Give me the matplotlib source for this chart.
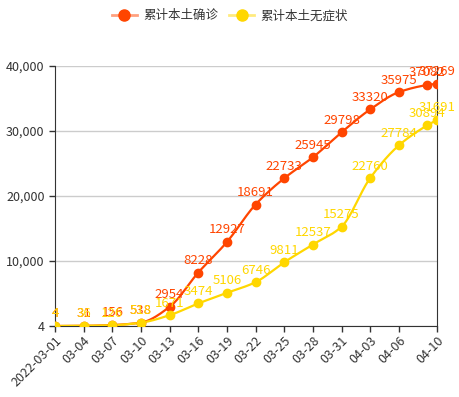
import numpy as np
import matplotlib
matplotlib.use('Agg')
import matplotlib.pyplot as plt
from matplotlib.lines import Line2D

plt.rcParams['font.family'] = ['Noto Sans CJK SC', 'DejaVu Sans']

# 日期(从2022-03-01起的天数)和数据
days = [0, 3, 6, 9, 12, 15, 18, 21, 24, 27, 30, 33, 36, 39, 40]
confirmed = [4, 31, 156, 538, 2954, 8228, 12927, 18691, 22733, 25945, 29798, 33320, 35975, 37082, 37269]
asymptomatic = [4, 36, 126, 518, 1671, 3474, 5106, 6746, 9811, 12537, 15275, 22760, 27784, 30894, 31691]
tick_days = [0, 3, 6, 9, 12, 15, 18, 21, 24, 27, 30, 33, 36, 40]
tick_labels = ['2022-03-01', '03-04', '03-07', '03-10', '03-13', '03-16', '03-19',
               '03-22', '03-25', '03-28', '03-31', '04-03', '04-06', '04-10']
names = ['累计本土确诊', '累计本土无症状']
colors = ['#FF4500', '#FFD700']


def smooth(x, y, n=20):
    # 单调三次插值,只用来画平滑曲线
    x = np.asarray(x, float)
    y = np.asarray(y, float)
    h = np.diff(x)
    d = np.diff(y) / h
    m = np.zeros_like(y)
    for i in range(1, len(y) - 1):
        if d[i - 1] * d[i] > 0:
            w1 = 2 * h[i] + h[i - 1]
            w2 = h[i] + 2 * h[i - 1]
            m[i] = (w1 + w2) / (w1 / d[i - 1] + w2 / d[i])
    m[0] = d[0]
    m[-1] = d[-1]
    xs, ys = [], []
    for i in range(len(x) - 1):
        t = np.linspace(0, 1, n)
        h00 = 2 * t**3 - 3 * t**2 + 1
        h10 = t**3 - 2 * t**2 + t
        h01 = -2 * t**3 + 3 * t**2
        h11 = t**3 - t**2
        xs.append(x[i] + t * h[i])
        ys.append(h00 * y[i] + h10 * h[i] * m[i] + h01 * y[i + 1] + h11 * h[i] * m[i + 1])
    return np.concatenate(xs), np.concatenate(ys)


fig = plt.figure(figsize=(4.6, 3.97), dpi=100)
ax = fig.add_axes([0.1196, 0.1788, 0.8304, 0.655])

for vals, c in zip([confirmed, asymptomatic], colors):
    sx, sy = smooth(days, vals)
    ax.plot(sx, sy, color=c, lw=1.6, zorder=3)
    ax.plot(days, vals, 'o', color=c, ms=6, zorder=4)
    for d, v in zip(days, vals):
        ax.annotate(str(v), (d, v), xytext=(0, 4), textcoords='offset points',
                    ha='center', va='bottom', color=c, fontsize=9.5, zorder=5)

ax.set_xlim(0, 40)
ax.set_ylim(4, 40000)
ax.set_yticks([4, 10000, 20000, 30000, 40000])
ax.set_yticklabels(['{:,}'.format(v) for v in [4, 10000, 20000, 30000, 40000]])
ax.set_xticks(tick_days)
ax.set_xticklabels(tick_labels, rotation=45, ha='right', rotation_mode='anchor')
ax.tick_params(colors='#333333', labelsize=9, length=4, width=1)
ax.tick_params(axis='x', pad=2)
ax.grid(axis='y', color='#cccccc', lw=1)
ax.set_axisbelow(True)
ax.spines['top'].set_visible(False)
for s in ['left', 'bottom', 'right']:
    ax.spines[s].set_color('#333333')

handles = [Line2D([], [], color=c, lw=2, marker='o', ms=8,
                  markerfacecolor=c, markeredgecolor=c) for c in colors]
leg = fig.legend(handles, names, loc='upper center', bbox_to_anchor=(0.5, 1.005), ncol=2,
                 frameon=False, fontsize=9, handlelength=2.0, columnspacing=0.9,
                 handletextpad=0.5)
for t in leg.get_texts():
    t.set_color('#333333')
for lh, c in zip(leg.legend_handles, colors):
    lh.set_color(matplotlib.colors.to_rgba(c, 0.5))
    lh.set_markerfacecolor(c)
    lh.set_markeredgecolor(c)

fig.savefig('out.png', dpi=100)
